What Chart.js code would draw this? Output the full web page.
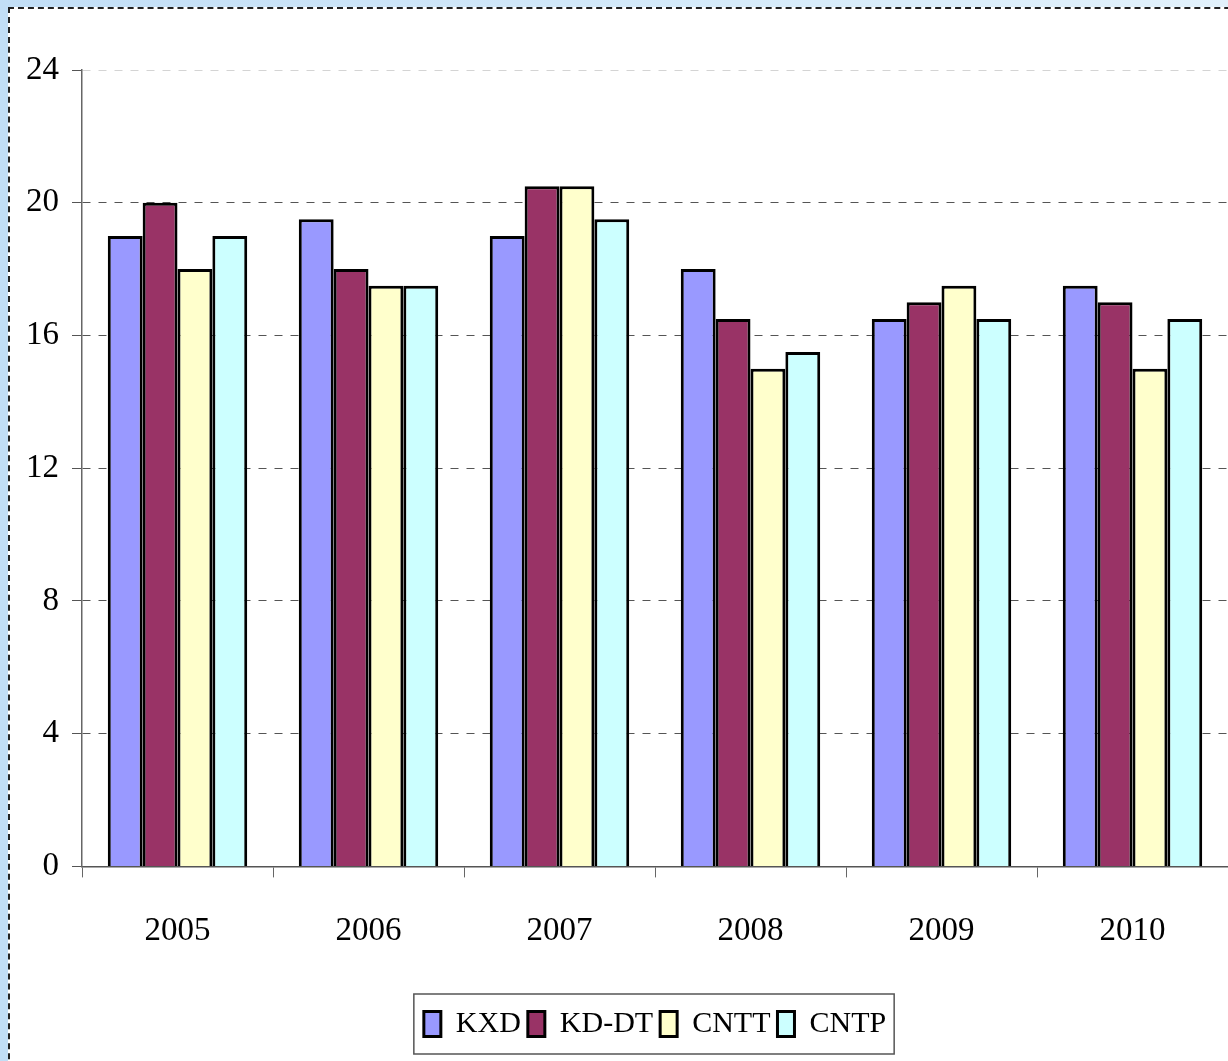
<!DOCTYPE html>
<html>
<head>
<meta charset="utf-8">
<script src="https://cdn.jsdelivr.net/npm/chart.js@4/dist/chart.umd.min.js"></script>
<style>
  html, body { margin: 0; padding: 0; }
  body {
    width: 1228px; height: 1061px; overflow: hidden; position: relative;
    background: linear-gradient(to right, #c2def6 0%, #d6ebfa 60%, #e2f1fb 100%);
  }
  #frame {
    position: absolute; left: 8px; top: 7px; width: 1300px; height: 1100px;
    background: #fff;
    border-left: 2px dashed #222; border-top: 2px dashed #222;
  }
  #wrap { position: absolute; left: 0; top: 0; width: 1228px; height: 1061px; }
</style>
</head>
<body>
<div id="frame"></div>
<div id="wrap"><canvas id="chart"></canvas></div>
<script>
/* Chart data */
let years = ['2005', '2006', '2007', '2008', '2009', '2010']
let kxd = [19, 19.5, 19, 18, 16.5, 17.5]
let kdDt = [20, 18, 20.5, 16.5, 17, 17]
let cntt = [18, 17.5, 20.5, 15, 17.5, 15]
let cntp = [19, 17.5, 19.5, 15.5, 16.5, 16.5]
let yTicks = [0, 4, 8, 12, 16, 20, 24]

let seriesNames = ['KXD', 'KD-DT', 'CNTT', 'CNTP']
let seriesColors = ['#9999ff', '#993366', '#ffffcc', '#ccffff']

let serif = 'Liberation Serif, Times New Roman, serif'

// legend sits centred under the plot area, not the whole canvas, and has a gray frame
let legendFrame = {
    id: 'legendFrame',
    afterLayout(chart) {
        let shift = chart.chartArea.left / 2
        chart.legend.left += shift
        chart.legend.right += shift
    },
    afterDraw(chart) {
        let boxes = chart.legend.legendHitBoxes
        if (!boxes || boxes.length == 0) return
        let left = Math.min(...boxes.map(b => b.left)) - 10
        let right = Math.max(...boxes.map(b => b.left + b.width)) + 8
        let top = Math.min(...boxes.map(b => b.top)) - 15
        let bottom = Math.max(...boxes.map(b => b.top + b.height)) + 15
        let ctx = chart.ctx
        ctx.save()
        ctx.strokeStyle = '#555'
        ctx.lineWidth = 1.5
        ctx.strokeRect(left, top, right - left, bottom - top)
        ctx.restore()
    }
}

let ctx = document.querySelector('#chart').getContext('2d')

let chart = new Chart(ctx, {
    type: 'bar',
    data: {
        labels: years,
        datasets: [kxd, kdDt, cntt, cntp].map((values, i) => ({
            label: seriesNames[i],
            data: values,
            backgroundColor: seriesColors[i],
            borderColor: '#000',
            borderWidth: 3,
            barPercentage: 1,
            categoryPercentage: 0.73
        }))
    },
    options: {
        responsive: true,
        maintainAspectRatio: false,
        animation: false,
        layout: { padding: { top: 70, right: 0, bottom: 12, left: 0 } },
        plugins: {
            tooltip: { enabled: false },
            legend: {
                position: 'bottom',
                labels: {
                    font: { family: serif, size: 30 },
                    color: '#000',
                    boxWidth: 17,
                    boxHeight: 25,
                    padding: 7
                }
            }
        },
        scales: {
            x: {
                // leave room between the year labels and the legend
                afterFit(scale) { scale.height += 17 },
                grid: {
                    drawOnChartArea: false,
                    drawTicks: true,
                    tickLength: 11,
                    tickColor: '#666',
                    offset: true
                },
                border: { color: '#555', width: 1.5 },
                ticks: {
                    font: { family: serif, size: 33 },
                    color: '#000',
                    padding: 34
                }
            },
            y: {
                min: 0,
                max: 24,
                afterFit(scale) { scale.width = 82 },
                afterBuildTicks(scale) { scale.ticks = yTicks.map(v => ({ value: v })) },
                grid: {
                    color: c => c.tick && c.tick.value == 24 ? '#d4d4d4' : '#555',
                    lineWidth: 1,
                    tickLength: 10,
                    tickColor: '#555',
                    tickBorderDash: [],
                    drawTicks: true
                },
                border: { color: '#666', width: 1.5, dash: [8, 8] },
                ticks: {
                    font: { family: serif, size: 33 },
                    color: '#000',
                    padding: 13
                }
            }
        }
    },
    plugins: [legendFrame]
})
</script>
</body>
</html>
